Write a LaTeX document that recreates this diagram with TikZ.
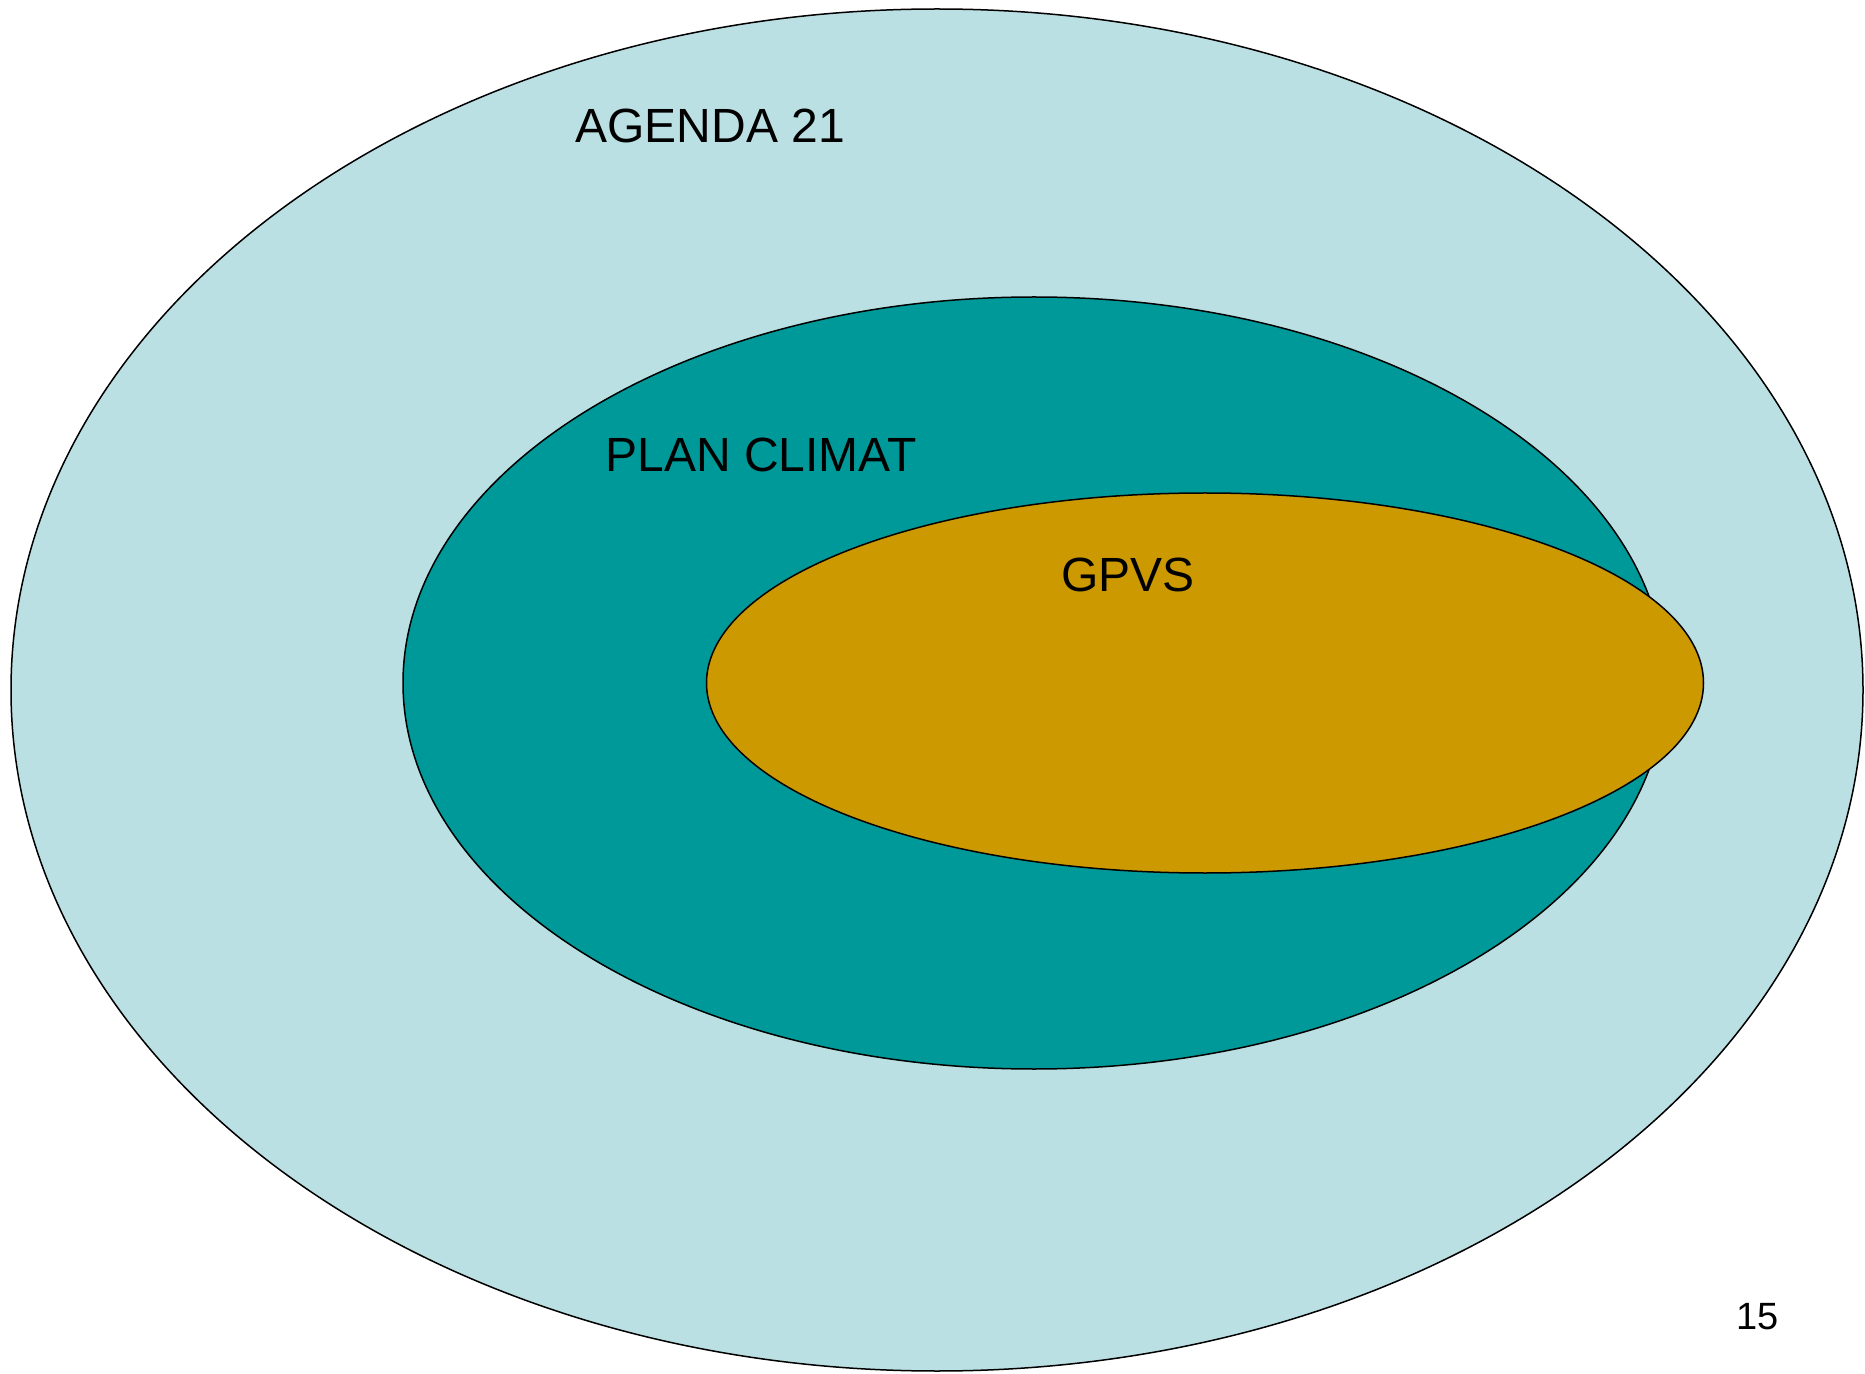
\documentclass[tikz,border=0pt]{standalone}
\usepackage{fontspec}
\setmainfont{Liberation Sans}
\usetikzlibrary{shapes.geometric}
\definecolor{agendacol}{HTML}{BBE0E3}
\definecolor{plancol}{HTML}{009999}
\definecolor{gpvscol}{HTML}{CC9900}
\tikzset{
  zone/.style={ellipse, draw=black, line width=0.75pt, inner sep=0pt, outer sep=0pt},
  label/.style={anchor=base west, inner sep=0pt, text=black, font=\fontsize{24pt}{29pt}\selectfont},
  pagenum/.style={anchor=base west, inner sep=0pt, text=black, font=\fontsize{19pt}{23pt}\selectfont}
}
\begin{document}
\begin{tikzpicture}[x=0.5pt,y=-0.5pt]
\useasboundingbox[fill=white] (0,0) rectangle (1865,1374);
\node[zone, fill=agendacol, minimum width=926pt, minimum height=681pt] (agenda) at (937,690) {};
\node[zone, fill=plancol, minimum width=631pt, minimum height=386pt] (plan) at (1034,683) {};
\node[zone, fill=gpvscol, minimum width=498.5pt, minimum height=190pt] (gpvs) at (1205,683) {};
\node[label] (tagenda) at (575,143) {AGENDA 21};
\node[label] (tplan) at (605,472) {PLAN CLIMAT};
\node[label] (tgpvs) at (1061,592) {GPVS};
\node[pagenum] (tnum) at (1736,1329) {15};
\end{tikzpicture}
\end{document}
